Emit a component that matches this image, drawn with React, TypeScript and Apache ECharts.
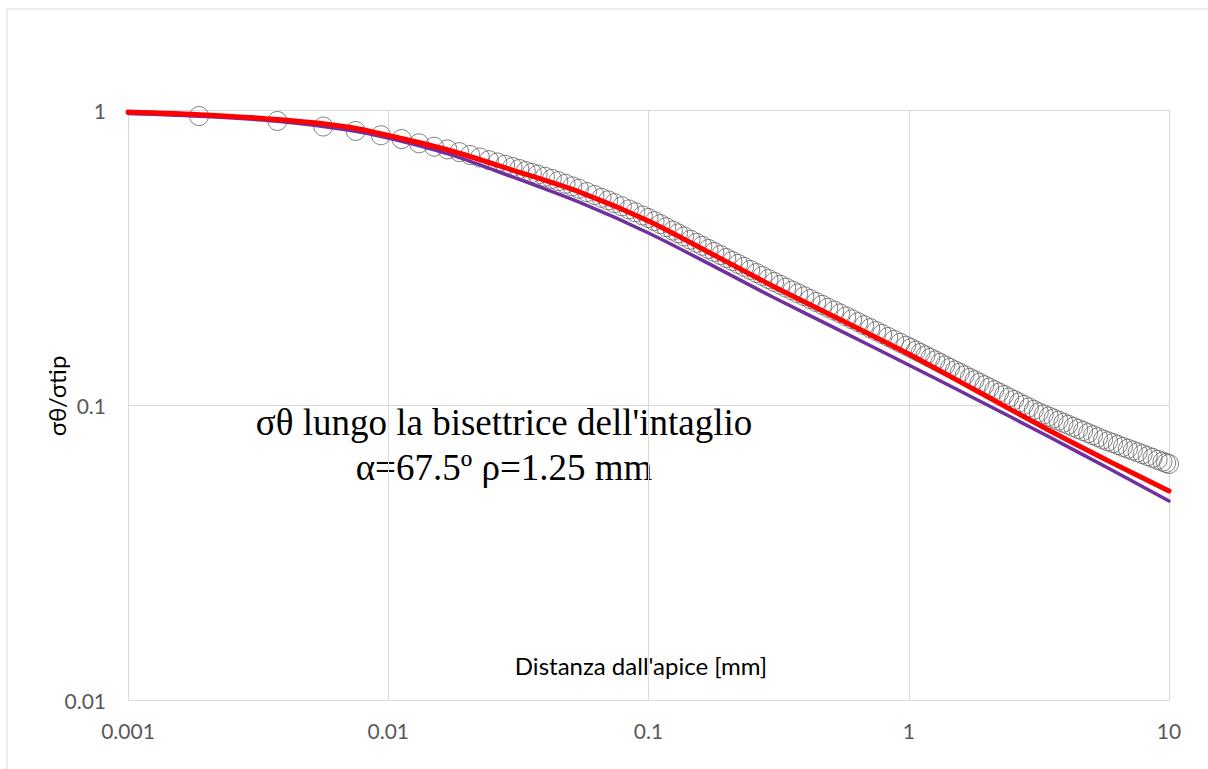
import React, { useEffect, useRef } from "react";
import * as echarts from "echarts";

// ---- data ----
const xTickLabels = ["0.001", "0.01", "0.1", "1", "10"];
const yTickLabels = ["0.01", "0.1", "1"];

const lineX = [0.001, 0.002, 0.004, 0.007, 0.01, 0.017, 0.03, 0.055, 0.1, 0.18, 0.3, 0.55, 1, 1.8, 3.5, 6, 10];
const redY = [0.9845, 0.962, 0.925, 0.876, 0.82, 0.732, 0.626, 0.525, 0.4205, 0.321, 0.2532, 0.1941, 0.1489, 0.1124, 0.0816, 0.0639, 0.0511];
const purpleY = [0.973, 0.95, 0.911, 0.855, 0.804, 0.71, 0.593, 0.484, 0.383, 0.294, 0.2323, 0.178, 0.1367, 0.105, 0.0776, 0.0603, 0.0473];

const femX = [
  0.001875, 0.00375, 0.005625, 0.0075, 0.009375, 0.01125, 0.013125, 0.015, 0.016875, 0.01875,
  0.020625, 0.0225, 0.024375, 0.02625, 0.028125, 0.03, 0.031875, 0.03375, 0.035625, 0.0375,
  0.04, 0.0425, 0.045, 0.048, 0.051, 0.054, 0.058, 0.062, 0.066, 0.07,
  0.074, 0.079, 0.084, 0.089, 0.095, 0.1,
  0.1055, 0.111, 0.117, 0.124, 0.13, 0.137, 0.145, 0.153, 0.161, 0.17,
  0.179, 0.189, 0.199, 0.21, 0.221, 0.233, 0.246, 0.26, 0.274, 0.289,
  0.304, 0.321, 0.338, 0.357, 0.376, 0.397, 0.418, 0.441, 0.465, 0.49,
  0.517, 0.545, 0.575, 0.606, 0.639, 0.674, 0.711, 0.75, 0.79, 0.834,
  0.879, 0.927, 0.977,
  1.02, 1.065, 1.11, 1.16, 1.21, 1.265, 1.32, 1.38, 1.44, 1.505,
  1.57, 1.64, 1.715, 1.79, 1.87, 1.955, 2.04, 2.13, 2.225, 2.325,
  2.43, 2.54, 2.65, 2.77, 2.895, 3.025, 3.16, 3.3, 3.45, 3.6,
  3.76, 3.93, 4.1, 4.29, 4.48, 4.68, 4.89, 5.11, 5.34, 5.58,
  5.83, 6.09, 6.36, 6.65, 6.95, 7.26, 7.58, 7.92, 8.28, 8.65,
  9.04, 9.44, 9.75, 10,
];
const femY = [
  0.954, 0.918, 0.879, 0.849, 0.821, 0.797, 0.771, 0.751, 0.735, 0.72,
  0.704, 0.69, 0.676, 0.664, 0.652, 0.641, 0.631, 0.621, 0.612, 0.604,
  0.594, 0.584, 0.574, 0.562, 0.551, 0.541, 0.527, 0.515, 0.504, 0.494,
  0.4835, 0.4717, 0.4603, 0.4503, 0.4389, 0.4304,
  0.4201, 0.4104, 0.4006, 0.3901, 0.3818, 0.3727, 0.3633, 0.3545, 0.3463, 0.3379,
  0.3302, 0.3224, 0.315, 0.3077, 0.3008, 0.2939, 0.287, 0.2801, 0.2737, 0.2673,
  0.2615, 0.2556, 0.25, 0.2443, 0.239, 0.2336, 0.2286, 0.2235, 0.2185, 0.2138,
  0.209, 0.2044, 0.1997, 0.1952, 0.1908, 0.1864, 0.1822, 0.178, 0.1741, 0.17,
  0.1662, 0.1624, 0.1589,
  0.1559, 0.1529, 0.1501, 0.1472, 0.1444, 0.1416, 0.1389, 0.1362, 0.1336, 0.131,
  0.1286, 0.1261, 0.1236, 0.1213, 0.119, 0.1167, 0.1145, 0.1123, 0.1102, 0.1081,
  0.106, 0.104, 0.102, 0.1001, 0.0981, 0.0963, 0.0944, 0.0929, 0.0914, 0.09,
  0.0885, 0.0871, 0.0857, 0.0843, 0.0829, 0.0816, 0.0803, 0.079, 0.0777, 0.0764,
  0.0753, 0.0743, 0.0732, 0.0721, 0.0711, 0.0701, 0.0691, 0.0681, 0.0671, 0.0662,
  0.0652, 0.0643, 0.0636, 0.0631,
];

const titleLines = ["σθ lungo la bisettrice dell'intaglio", "α=67.5º ρ=1.25 mm"];
const xAxisName = "Distanza dall'apice [mm]";
const yAxisName = "σθ/σtip";

const labelFromTicks = (labels: string[], minExp: number) => (v: number) => {
  const idx = Math.round(Math.log10(v)) - minExp;
  return labels[idx] ?? "";
};

export default function App() {
  const ref = useRef<HTMLDivElement>(null);
  useEffect(() => {
    if (!ref.current) return;
    const chart = echarts.init(ref.current, undefined, { renderer: "svg" });
    const font = "Lato, 'Noto Sans', sans-serif";
    const serif = "'Liberation Serif', 'DejaVu Serif', serif";
    const gridColor = "#d9d9d9";
    chart.setOption({
      animation: false,
      backgroundColor: "#ffffff",
      grid: { left: 128, right: 39, top: 110, bottom: 69, containLabel: false },
      xAxis: {
        type: "log",
        logBase: 10,
        min: 0.001,
        max: 10,
        axisLine: { show: true, lineStyle: { color: gridColor, width: 1 } },
        axisTick: { show: false },
        splitLine: { show: true, lineStyle: { color: gridColor, width: 1 } },
        axisLabel: {
          color: "#595959",
          fontFamily: font,
          fontSize: 21,
          margin: 20,
          formatter: labelFromTicks(xTickLabels, -3),
        },
      },
      yAxis: {
        type: "log",
        logBase: 10,
        min: 0.01,
        max: 1,
        axisLine: { show: true, lineStyle: { color: gridColor, width: 1 } },
        axisTick: { show: false },
        splitLine: { show: true, lineStyle: { color: gridColor, width: 1 } },
        axisLabel: {
          color: "#595959",
          fontFamily: font,
          fontSize: 21,
          margin: 22,
          formatter: labelFromTicks(yTickLabels, -2),
        },
      },
      graphic: [
        {
          type: "rect",
          shape: { x: 7, y: 9, width: 1220, height: 780 },
          style: { fill: "none", stroke: gridColor, lineWidth: 1 },
          silent: true,
          z: -10,
        },
        {
          type: "text",
          x: 641,
          y: 665,
          style: {
            text: xAxisName,
            fill: "#000000",
            font: `24px ${font}`,
            textAlign: "center",
            textVerticalAlign: "middle",
          },
        },
        {
          type: "text",
          x: 56,
          y: 396,
          rotation: Math.PI / 2,
          style: {
            text: yAxisName,
            fill: "#000000",
            font: `24px ${font}`,
            textAlign: "center",
            textVerticalAlign: "middle",
          },
        },
        {
          type: "text",
          x: 504,
          y: 422,
          style: {
            text: titleLines[0],
            fill: "#000000",
            font: `37px ${serif}`,
            textAlign: "center",
            textVerticalAlign: "middle",
          },
        },
        {
          type: "text",
          x: 504,
          y: 467,
          style: {
            text: titleLines[1],
            fill: "#000000",
            font: `37px ${serif}`,
            textAlign: "center",
            textVerticalAlign: "middle",
          },
        },
      ],
      series: [
        {
          name: "purple",
          type: "line",
          data: lineX.map((x, i) => [x, purpleY[i]]),
          smooth: 0.3,
          showSymbol: false,
          lineStyle: { color: "#7030a0", width: 3.5, cap: "round" },
        },
        {
          name: "red",
          type: "line",
          data: lineX.map((x, i) => [x, redY[i]]),
          smooth: 0.3,
          showSymbol: false,
          lineStyle: { color: "#ff0000", width: 5, cap: "round" },
        },
        {
          name: "FEM",
          type: "scatter",
          data: femX.map((x, i) => [x, femY[i]]),
          symbol: "circle",
          symbolSize: 19,
          itemStyle: { color: "rgba(255,255,255,0)", borderColor: "#5f5f5f", borderWidth: 1 },
        },
      ],
    });
    return () => chart.dispose();
  }, []);
  return (
    <div
      ref={ref}
      style={{ position: "absolute", left: 0, top: 0, width: 1208, height: 769 }}
    />
  );
}
